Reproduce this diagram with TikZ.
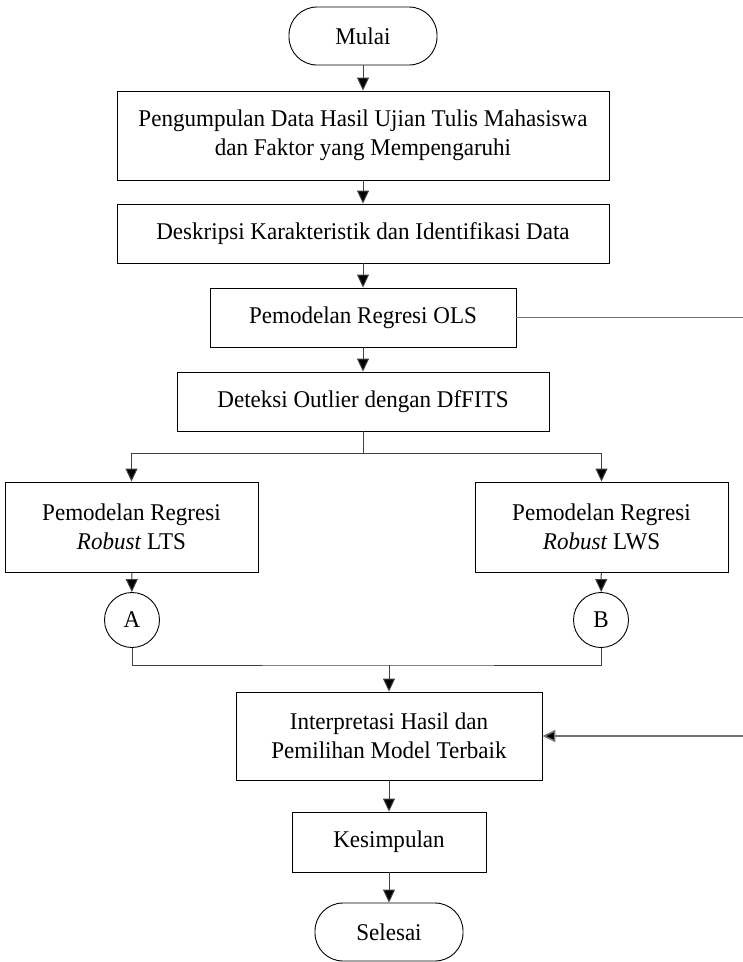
\documentclass[tikz,border=0pt]{standalone}
\usepackage{fontspec}
\setmainfont[FakeStretch=0.96]{Liberation Serif}
\usetikzlibrary{arrows.meta,positioning}
\begin{document}
\begin{tikzpicture}[x=1pt,y=-1pt,
  every node/.style={font=\fontsize{24}{29}\selectfont, align=center, inner sep=0pt},
  procbox/.style={draw=black, line width=0.9pt, rectangle},
  termbox/.style={draw=black, line width=0.9pt, rectangle, rounded corners=28pt, minimum width=148pt, minimum height=58pt},
  connbox/.style={draw=black, line width=0.9pt, circle, minimum size=55pt},
  flow/.style={draw=black!75, line width=1pt},
  tip/.style={-{Triangle[length=13pt,width=12pt,fill=black]}},
  arr/.style={flow, tip},
  sideline/.style={draw=black!55, line width=1.6pt}
]
\useasboundingbox (0,0) rectangle (743,962);

\node[termbox] (mulai) at (363,36) {Mulai};
\node[procbox, minimum width=492pt, minimum height=89pt] (kumpul) at (363,135.5)
  {Pengumpulan Data Hasil Ujian Tulis Mahasiswa\\dan Faktor yang Mempengaruhi};
\node[procbox, minimum width=492pt, minimum height=59pt] (desk) at (363,233.5)
  {Deskripsi Karakteristik dan Identifikasi Data};
\node[procbox, minimum width=306pt, minimum height=59pt] (ols) at (363,317.5)
  {Pemodelan Regresi OLS};
\node[procbox, minimum width=372pt, minimum height=59pt] (dff) at (363,401.5)
  {Deteksi Outlier dengan DfFITS};
\node[procbox, minimum width=253pt, minimum height=90pt] (lts) at (131.5,527)
  {Pemodelan Regresi\\\textit{Robust} LTS};
\node[procbox, minimum width=253pt, minimum height=90pt] (lws) at (601.5,527)
  {Pemodelan Regresi\\\textit{Robust} LWS};
\node[connbox] (ca) at (132,620) {A};
\node[connbox] (cb) at (601,620) {B};
\node[procbox, minimum width=306pt, minimum height=88pt] (interp) at (389,736)
  {Interpretasi Hasil dan\\Pemilihan Model Terbaik};
\node[procbox, minimum width=194pt, minimum height=60pt] (kes) at (389,842)
  {Kesimpulan};
\node[termbox] (selesai) at (389,932) {Selesai};

\coordinate (split) at (363,453);
\coordinate (join) at (389,665);
\coordinate (rtop) at (743,317.5);
\coordinate (rbot) at (743,736);

\draw[arr] (mulai) -- (kumpul);
\draw[arr] (kumpul) -- (desk);
\draw[arr] (desk) -- (ols);
\draw[arr] (ols) -- (dff);
\draw[flow] (dff.south) -- (split);
\draw[arr] (split) -| (lts.north);
\draw[arr] (split) -| (lws.north);
\draw[arr] (lts) -- (ca);
\draw[arr] (lws) -- (cb);
\draw[flow] (ca.south) |- (join) -| (cb.south);
\draw[arr] (join) -- (interp.north);
\draw[arr] (interp) -- (kes);
\draw[arr] (kes) -- (selesai);
\draw[sideline] (ols.east) -- (rtop);
\draw[sideline, tip] (rbot) -- (interp.east);
\end{tikzpicture}
\end{document}
